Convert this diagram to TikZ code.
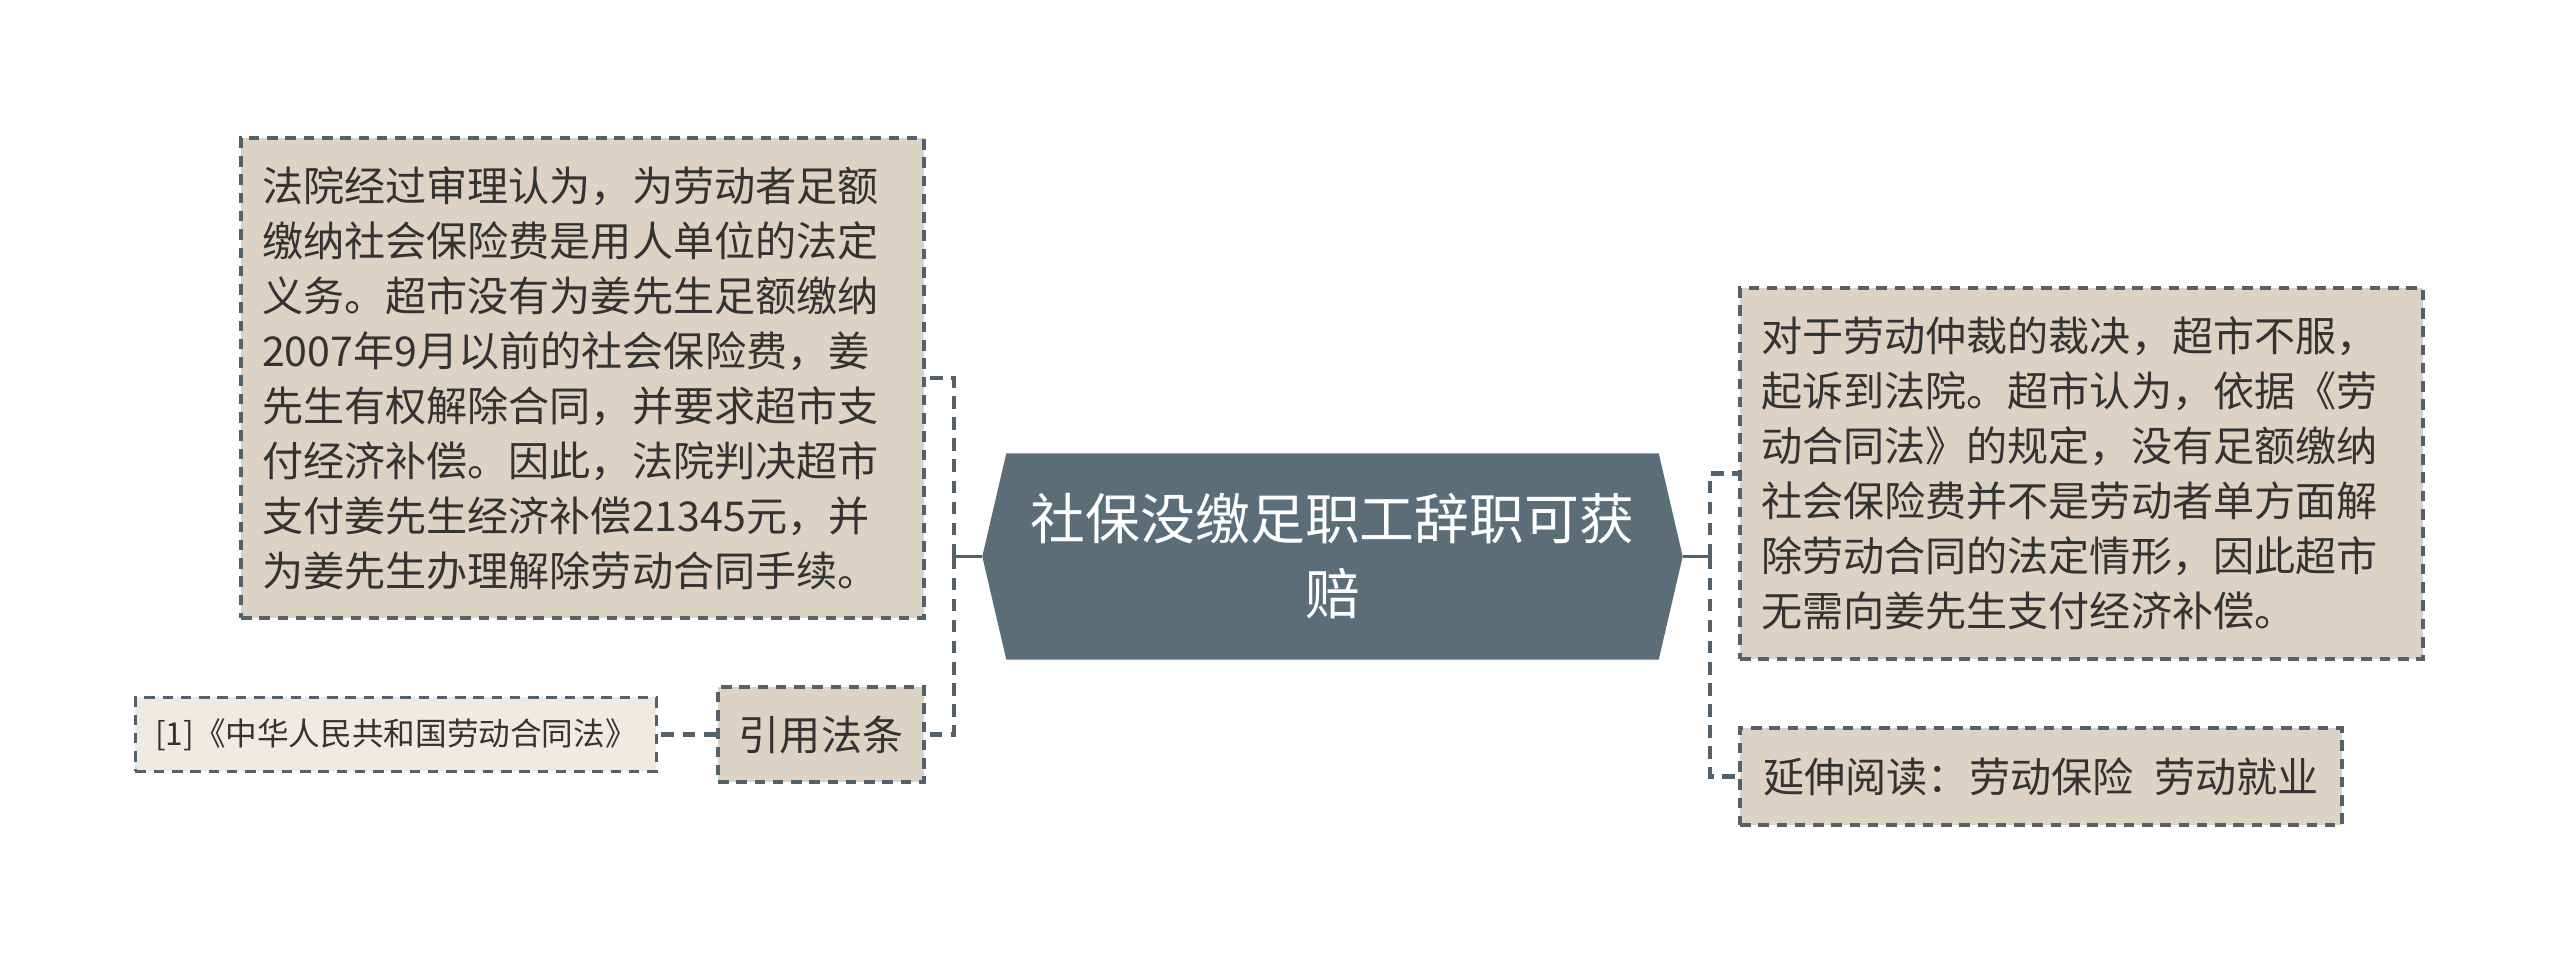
\documentclass[tikz,border=0pt]{standalone}
\usepackage{fontspec}
\setmainfont{Noto Sans CJK SC}
\usepackage{tikz}
\usetikzlibrary{positioning, backgrounds}
\usepackage{xcolor}
\definecolor{slate}{HTML}{5B6D79}
\definecolor{sand}{HTML}{DDD3C4}
\definecolor{paper}{HTML}{EFEBE4}
\definecolor{edgegray}{HTML}{53616B}
\definecolor{ink}{HTML}{333333}
\tikzset{
	rootbox/.style={minimum width=6.99cm, minimum height=2.05cm, inner sep=0pt, text=white, align=center, font=\fontsize{15.6}{21.3}\selectfont},
	topic/.style={draw=edgegray, line width=1pt, dash pattern=on 3pt off 2.2pt, fill=sand, text=ink, inner sep=0pt, font=\fontsize{11.7}{15.65}\selectfont},
	note/.style={topic, align=left, text width=6.41cm, inner xsep=0.21cm},
	link/.style={draw=edgegray, line width=1.25pt, dash pattern=on 3.6pt off 2.4pt},
	stem/.style={draw=edgegray, line width=1.1pt},
}

\begin{document}
\begin{tikzpicture}
	\useasboundingbox (0,0) rectangle (25.6,-9.62);
	% root
	\node[rootbox] (root) at (13.325,-5.565) {社保没缴足职工辞职可获\\赔};
	\begin{scope}[on background layer]
		\fill[white] (0,0) rectangle (25.6,-9.62);
		\fill[slate] ([xshift=0.24cm]root.north west) -- ([xshift=-0.24cm]root.north east) -- (root.east)
			-- ([xshift=-0.24cm]root.south east) -- ([xshift=0.24cm]root.south west) -- (root.west) -- cycle;
	\end{scope}

	% left
	\node[note, minimum height=4.8cm] (court) at (5.825,-3.78) {法院经过审理认为，为劳动者足额\\缴纳社会保险费是用人单位的法定\\义务。超市没有为姜先生足额缴纳\\2007年9月以前的社会保险费，姜\\先生有权解除合同，并要求超市支\\付经济补偿。因此，法院判决超市\\支付姜先生经济补偿21345元，并\\为姜先生办理解除劳动合同手续。};
	\node[topic, minimum width=2.06cm, minimum height=0.95cm] (cite) at (8.21,-7.345) {引用法条};
	\node[topic, fill=paper, minimum width=5.21cm, minimum height=0.74cm, font=\fontsize{9}{11}\selectfont, left=0.58cm of cite] (law) {[1]《中华人民共和国劳动合同法》};
	\coordinate (ljoin) at (9.54,-5.565);

	\draw[stem] (root.west) -- (ljoin);
	\draw[stem] ([yshift=0.1cm]ljoin) -- ([yshift=-0.1cm]ljoin);
	\draw[link] (ljoin) |- (court.east);
	\draw[link] (ljoin) |- (cite.east);
	\draw[link] (cite.west) -- (law.east);

	% right
	\node[note, minimum height=3.71cm] (appeal) at (20.815,-4.735) {对于劳动仲裁的裁决，超市不服，\\起诉到法院。超市认为，依据《劳\\动合同法》的规定，没有足额缴纳\\社会保险费并不是劳动者单方面解\\除劳动合同的法定情形，因此超市\\无需向姜先生支付经济补偿。};
	\node[topic, minimum width=6.02cm, minimum height=0.97cm] (reading) at (20.41,-7.765) {延伸阅读：劳动保险\hspace{0.5em}劳动就业};
	\coordinate (rjoin) at (17.10,-5.565);

	\draw[stem] (root.east) -- (rjoin);
	\draw[stem] ([yshift=0.1cm]rjoin) -- ([yshift=-0.1cm]rjoin);
	\draw[link] (rjoin) |- (appeal.west);
	\draw[link] (rjoin) |- (reading.west);
\end{tikzpicture}
\end{document}
